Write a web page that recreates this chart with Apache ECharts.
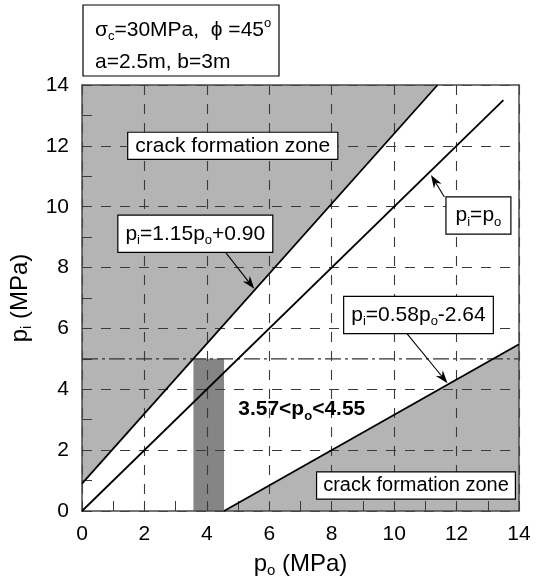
<!DOCTYPE html>
<html>
<head>
<meta charset="utf-8">
<script src="https://cdn.jsdelivr.net/npm/echarts@6/dist/echarts.min.js"></script>
<style>
  html, body { margin: 0; padding: 0; background: #fff; }
  #c { width: 538px; height: 583px; }
</style>
</head>
<body>
<div id="c"></div>
<script>
// ---- data ----------------------------------------------------------------
// axis tick labels (p_o and p_i, MPa)
const xTickLabels = ['0', '2', '4', '6', '8', '10', '12', '14'];
const yTickLabels = ['0', '2', '4', '6', '8', '10', '12', '14'];

// boundary lines [p_o, p_i]
const upperLine = [[0, 0.90], [11.39, 14]];     // p_i = 1.15 p_o + 0.90
const equalLine = [[0, 0], [13.5, 13.5]];       // p_i = p_o
const lowerLine = [[4.55, 0], [14, 5.48]];      // p_i = 0.58 p_o - 2.64

// crack formation zones (polygons)
const upperZone = [[0, 0.90], [11.39, 14], [0, 14]];
const lowerZone = [[4.55, 0], [14, 5.48], [14, 0]];

// admissible range of p_o at p_i = 5 MPa
const bandPo = [3.57, 4.55];
const bandPi = [0, 5];
const limitLine = [[0, 5], [14, 5]];

// ---- styling / layout ----------------------------------------------------
const FONT = "'Liberation Sans', Arial, Helvetica, sans-serif";
const rich = {
  n: { fontFamily: FONT, fontSize: 21, lineHeight: 26, color: '#000' },
  s: { fontFamily: FONT, fontSize: 13, lineHeight: 13, verticalAlign: 'bottom', color: '#000' },
  u: { fontFamily: FONT, fontSize: 13, lineHeight: 13, verticalAlign: 'top', color: '#000' },
  c: { fontFamily: FONT, fontSize: 21, lineHeight: 24, color: '#000' },
  c2: { fontFamily: FONT, fontSize: 20, lineHeight: 24, color: '#000' },
  b: { fontFamily: FONT, fontSize: 21, lineHeight: 26, fontWeight: 'bold', color: '#000' },
  bs: { fontFamily: FONT, fontSize: 13, lineHeight: 13, fontWeight: 'bold', verticalAlign: 'bottom', color: '#000' },
  an: { fontFamily: FONT, fontSize: 24, lineHeight: 28, color: '#000' },
  as: { fontFamily: FONT, fontSize: 15, lineHeight: 15, verticalAlign: 'bottom', color: '#000' }
};

const FRAME = '#4a4a4a';
const GRID = '#3a3a3a';

function polygonSeries(points, fill, z) {
  return {
    type: 'custom',
    z: z,
    silent: true,
    data: [[0, 0]],
    renderItem: function (params, api) {
      return {
        type: 'polygon',
        shape: { points: points.map(function (p) { return api.coord(p); }) },
        style: { fill: fill }
      };
    }
  };
}

const bandPolygon = [[bandPo[0], bandPi[0]], [bandPo[1], bandPi[0]], [bandPo[1], bandPi[1]], [bandPo[0], bandPi[1]]];

function lineSeries(data, extra) {
  return Object.assign({
    type: 'line',
    data: data,
    showSymbol: false,
    symbol: 'none',
    silent: true,
    z: 5,
    lineStyle: { color: '#000', width: 1.8 }
  }, extra || {});
}

const mainAxisCommon = {
  type: 'value',
  min: 0,
  max: 14,
  interval: 2,
  z: 3,
  axisLine: { show: true, onZero: false, lineStyle: { color: FRAME, width: 1.5 } },
  axisTick: { show: true, inside: true, length: 10, lineStyle: { color: GRID, width: 1 } },
  minorTick: { show: true, splitNumber: 2, length: 10, lineStyle: { color: GRID, width: 1 } },
  splitLine: { show: true, lineStyle: { color: GRID, width: 1.1, type: [10, 9] } }
};

const edgeAxis = {
  type: 'value',
  min: 0,
  max: 14,
  interval: 2,
  z: 3,
  axisLine: { show: true, onZero: false, lineStyle: { color: FRAME, width: 1.5 } },
  axisTick: { show: false },
  axisLabel: { show: false },
  splitLine: { show: false }
};

const option = {
  animation: false,
  backgroundColor: '#fff',
  grid: { left: 82, top: 85, right: 19, bottom: 61, containLabel: false },
  xAxis: [
    Object.assign({}, mainAxisCommon, {
      position: 'bottom',
      name: '{an|p}{as|o}{an| (MPa)}',
      nameLocation: 'middle',
      nameGap: 39,
      nameTextStyle: { rich: rich },
      axisLabel: {
        margin: 13,
        fontFamily: FONT, fontSize: 21, color: '#000',
        formatter: function (v) { return xTickLabels[Math.round(v / 2)]; }
      }
    }),
    Object.assign({}, edgeAxis, { position: 'top' })
  ],
  yAxis: [
    Object.assign({}, mainAxisCommon, {
      position: 'left',
      name: '{an|p}{as|i}{an| (MPa)}',
      nameLocation: 'middle',
      nameGap: 41,
      nameTextStyle: { rich: rich },
      axisLabel: {
        margin: 13,
        fontFamily: FONT, fontSize: 21, color: '#000',
        formatter: function (v) { return yTickLabels[Math.round(v / 2)]; }
      }
    }),
    Object.assign({}, edgeAxis, { position: 'right' })
  ],
  series: [
    polygonSeries(upperZone, '#b4b4b4', 1),
    polygonSeries(lowerZone, '#b4b4b4', 1),
    polygonSeries(bandPolygon, '#858585', 1),
    lineSeries(limitLine, { z: 4, lineStyle: { color: '#333', width: 1.3, type: [16, 4, 3, 4] } }),
    lineSeries(upperLine),
    lineSeries(lowerLine),
    lineSeries(equalLine)
  ]
};

const chart = echarts.init(document.getElementById('c'));
chart.setOption(option);

// ---- annotations placed in data coordinates -------------------------------
function P(x, y) { return chart.convertToPixel({ gridIndex: 0 }, [x, y]); }

function boxedText(text, at, padding) {
  const p = P(at[0], at[1]);
  return {
    type: 'text',
    z: 20,
    silent: true,
    x: p[0],
    y: p[1],
    style: {
      text: text,
      rich: rich,
      fontFamily: FONT,
      fontSize: 21,
      fill: '#000',
      align: 'center',
      verticalAlign: 'middle',
      backgroundColor: '#fff',
      borderColor: '#000',
      borderWidth: 1.2,
      padding: padding
    }
  };
}

// leader arrow from a label towards a line: shaft plus a notched head
function arrow(from, to) {
  const a = P(from[0], from[1]);
  const b = P(to[0], to[1]);
  const dx = b[0] - a[0], dy = b[1] - a[1];
  const len = Math.sqrt(dx * dx + dy * dy);
  const ux = dx / len, uy = dy / len;
  const nx = -uy, ny = ux;
  const L = 13, W = 4.5, notch = 9;
  const back = [b[0] - ux * L, b[1] - uy * L];
  const inner = [b[0] - ux * notch, b[1] - uy * notch];
  return [
    {
      type: 'line', z: 19, silent: true,
      shape: { x1: a[0], y1: a[1], x2: inner[0], y2: inner[1] },
      style: { stroke: '#000', lineWidth: 1.1 }
    },
    {
      type: 'polygon', z: 19, silent: true,
      shape: { points: [b, [back[0] + nx * W, back[1] + ny * W], inner, [back[0] - nx * W, back[1] - ny * W]] },
      style: { fill: '#000' }
    }
  ];
}

const graphics = [].concat(
  arrow([4.6, 8.5], [5.52, 7.3]),
  arrow([11.61, 10.32], [11.18, 11.04]),
  arrow([10.41, 5.83], [11.71, 4.2]),
  [
    boxedText('{c|crack formation zone}', [4.83, 12.0], [1, 7]),
    boxedText('{c2|crack formation zone}', [10.7, 0.84], [1, 6]),
    boxedText('{n|p}{s|i}{n|=1.15p}{s|o}{n|+0.90}', [3.63, 9.11], [5, 7]),
    boxedText('{n|p}{s|i}{n|=p}{s|o}', [12.7, 9.71], [5, 9]),
    boxedText('{n|p}{s|i}{n|=0.58p}{s|o}{n|-2.64}', [10.78, 6.44], [5, 7]),
    (function () {
      const p = P(7.04, 3.33);
      return {
        type: 'text', z: 20, silent: true, x: p[0], y: p[1],
        style: {
          text: '{b|3.57<p}{bs|o}{b|<4.55}', rich: rich,
          fontFamily: FONT, fontSize: 21, fontWeight: 'bold', fill: '#000',
          align: 'center', verticalAlign: 'middle'
        }
      };
    })(),
    // parameter box above the plot
    {
      type: 'rect', z: 20, silent: true,
      shape: { x: 83, y: 5, width: 196, height: 71 },
      style: { fill: '#fff', stroke: '#000', lineWidth: 1.2 }
    },
    {
      type: 'text', z: 21, silent: true, x: 95, y: 30,
      style: {
        text: '{n|σ}{s|c}{n|=30MPa,  ϕ =45}{u|o}', rich: rich,
        fontFamily: FONT, fontSize: 21, fill: '#000', align: 'left', verticalAlign: 'middle'
      }
    },
    {
      type: 'text', z: 21, silent: true, x: 95, y: 62,
      style: {
        text: '{n|a=2.5m, b=3m}', rich: rich,
        fontFamily: FONT, fontSize: 21, fill: '#000', align: 'left', verticalAlign: 'middle'
      }
    }
  ]
);

chart.setOption({ graphic: graphics });
</script>
</body>
</html>
